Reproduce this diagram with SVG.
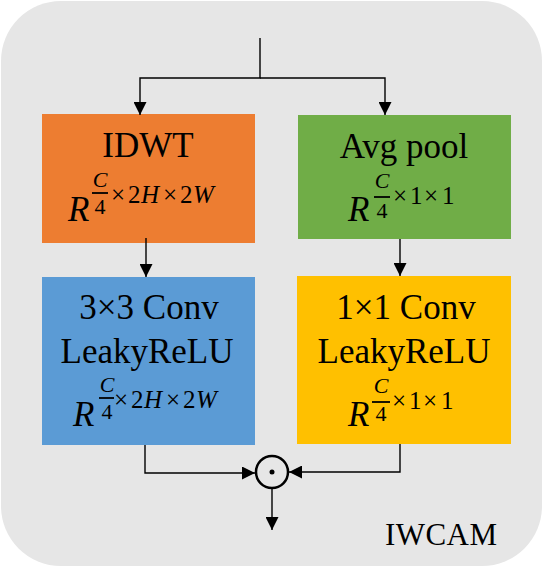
<svg xmlns="http://www.w3.org/2000/svg" width="543" height="567" viewBox="0 0 543 567">
<defs>
<marker id="ah" viewBox="0 0 10 10" refX="10" refY="5" markerWidth="13" markerHeight="13" markerUnits="userSpaceOnUse" orient="auto">
<path d="M0,0 L10,5 L0,10 z" fill="#000"/>
</marker>
</defs>
<style>
.t{font-family:"Liberation Serif","Times New Roman",serif;font-size:35px;fill:#000;text-anchor:middle}
.m{font-family:"Liberation Serif","Times New Roman",serif;fill:#000}
.i{font-style:italic}
.R{font-size:35px;font-style:italic}
.f{font-size:22px;text-anchor:middle}
.s{font-size:25px}
.c{fill:none;stroke:#000;stroke-width:1.4}
.bar{stroke:#000;stroke-width:1.8}
</style>
<rect x="1" y="1" width="541" height="565" rx="60" ry="60" fill="#e6e6e6"/>

<g id="idwt">
<rect x="42" y="114" width="213" height="129" fill="#ed7d31"/>
<text class="t" x="148" y="157">IDWT</text>
<text class="m R" x="68" y="221">R</text>
<text class="m f i" x="100" y="187">C</text>
<line class="bar" x1="92" y1="193" x2="108" y2="193"/>
<text class="m f" x="100" y="214">4</text>
<text class="m s" y="203"><tspan x="111">×</tspan><tspan x="128">2</tspan><tspan x="141" class="i">H</tspan><tspan x="163">×</tspan><tspan x="180">2</tspan><tspan x="193" class="i">W</tspan></text>
</g>

<g id="avgpool">
<rect x="298" y="115" width="213" height="124" fill="#70ad47"/>
<text class="t" x="404" y="158">Avg pool</text>
<text class="m R" x="348" y="221">R</text>
<text class="m f i" x="382" y="188">C</text>
<line class="bar" x1="374" y1="197" x2="390" y2="197"/>
<text class="m f" x="382" y="218">4</text>
<text class="m s" y="204"><tspan x="393">×</tspan><tspan x="410">1</tspan><tspan x="424">×</tspan><tspan x="442">1</tspan></text>
</g>

<g id="conv3">
<rect x="42" y="277" width="213" height="168" fill="#5b9bd5"/>
<text class="t" x="149" y="319">3×3 Conv</text>
<text class="t" x="147" y="363">LeakyReLU</text>
<text class="m R" x="73" y="426">R</text>
<text class="m f i" x="107" y="392">C</text>
<line class="bar" x1="99" y1="398" x2="114" y2="398"/>
<text class="m f" x="107" y="419">4</text>
<text class="m s" y="408"><tspan x="114">×</tspan><tspan x="131">2</tspan><tspan x="144" class="i">H</tspan><tspan x="166">×</tspan><tspan x="183">2</tspan><tspan x="196" class="i">W</tspan></text>
</g>

<g id="conv1">
<rect x="297" y="276" width="214" height="168" fill="#ffc000"/>
<text class="t" x="406" y="319">1×1 Conv</text>
<text class="t" x="404" y="363">LeakyReLU</text>
<text class="m R" x="348" y="426">R</text>
<text class="m f i" x="381" y="393">C</text>
<line class="bar" x1="372" y1="402" x2="390" y2="402"/>
<text class="m f" x="381" y="421">4</text>
<text class="m s" y="409"><tspan x="392">×</tspan><tspan x="409">1</tspan><tspan x="423">×</tspan><tspan x="441">1</tspan></text>
</g>

<g id="mult">
<circle cx="272" cy="472" r="16" fill="none" stroke="#000" stroke-width="2.5"/>
<circle cx="272" cy="472" r="2.5" fill="#000"/>
</g>

<g id="label">
<text class="m" x="385" y="545" font-size="31" textLength="112" lengthAdjust="spacing">IWCAM</text>
</g>

<g id="connectors">
<polyline class="c" points="260,38 260,78 140,78 140,115" marker-end="url(#ah)"/>
<polyline class="c" points="260,78 385,78 385,115" marker-end="url(#ah)"/>
<line class="c" x1="146" y1="238" x2="146" y2="277" marker-end="url(#ah)"/>
<line class="c" x1="400" y1="239" x2="400" y2="276" marker-end="url(#ah)"/>
<polyline class="c" points="145,445 145,473 255,473" marker-end="url(#ah)"/>
<polyline class="c" points="400,444 400,472 289,472" marker-end="url(#ah)"/>
<line class="c" x1="272" y1="489" x2="272" y2="530" marker-end="url(#ah)"/>
</g>
</svg>
